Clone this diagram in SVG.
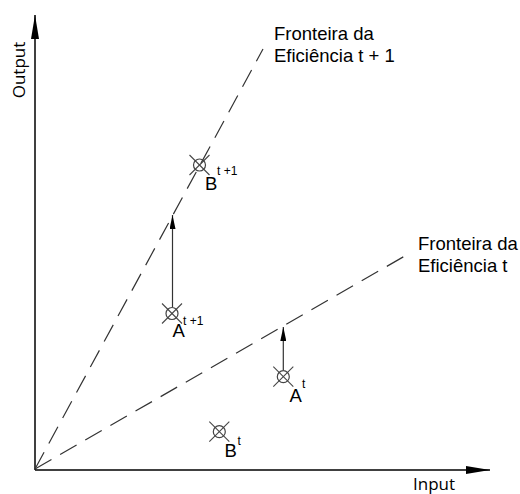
<svg xmlns="http://www.w3.org/2000/svg" width="520" height="494" viewBox="0 0 520 494">
<style>
.lbl{font-family:"Liberation Sans",Arial,sans-serif;font-size:18.5px;fill:#000}
.sup{font-family:"Liberation Sans",Arial,sans-serif;font-size:12px;fill:#000}
.ax{font-family:"Open Sans","Liberation Sans",sans-serif;font-size:17px;fill:#000}
.axis{stroke:#000;stroke-width:1.5;fill:none}
.dash{stroke:#333;stroke-width:1.2;stroke-dasharray:19 10;fill:none}
.vec{stroke:#333;stroke-width:1.2;fill:none}
.mk circle{fill:none;stroke:#444;stroke-width:1.2}
.mk line{stroke:#444;stroke-width:1.1}
</style>
<defs>
<marker id="axh" viewBox="0 0 24 8" refX="24" refY="4" markerWidth="24" markerHeight="8" markerUnits="userSpaceOnUse" orient="auto">
<path d="M0,0 L24,4 L0,8 Z" fill="#000"/>
</marker>
<marker id="vh" viewBox="0 0 14 6" refX="14" refY="3" markerWidth="14" markerHeight="6" markerUnits="userSpaceOnUse" orient="auto">
<path d="M0,0 L14,3 L0,6 Z" fill="#000"/>
</marker>
<g id="xm" class="mk">
<circle cx="0" cy="0" r="6"/>
<line x1="-10" y1="-10" x2="10" y2="10"/>
<line x1="10" y1="-10" x2="-10" y2="10"/>
</g>
</defs>
<g id="connectors">
<line class="axis" x1="35" y1="470" x2="35" y2="15" marker-end="url(#axh)"/>
<line class="axis" x1="35" y1="470" x2="490" y2="470" marker-end="url(#axh)"/>
<line class="dash" x1="35" y1="469" x2="263" y2="49"/>
<line class="dash" x1="35" y1="469" x2="410" y2="253"/>
<line class="vec" x1="172.5" y1="307" x2="172.5" y2="215" marker-end="url(#vh)"/>
<line class="vec" x1="283.3" y1="370" x2="283.3" y2="327" marker-end="url(#vh)"/>
</g>
<g id="axis-labels">
<text class="ax" transform="translate(25,70) rotate(-90)" text-anchor="middle">Output</text>
<text class="ax" x="413" y="490">Input</text>
</g>
<g id="frontier-t1">
<text class="lbl" x="274" y="40">Fronteira da</text>
<text class="lbl" x="274" y="62">Eficiência t + 1</text>
</g>
<g id="frontier-t">
<text class="lbl" x="418" y="250">Fronteira da</text>
<text class="lbl" x="418" y="272">Eficiência t</text>
</g>
<g id="B-t1">
<use href="#xm" x="199.5" y="165"/>
<text class="lbl" x="205" y="189.5">B</text>
<text class="sup" x="217" y="175">t +1</text>
</g>
<g id="A-t1">
<use href="#xm" x="172" y="313.5"/>
<text class="lbl" x="172.5" y="337">A</text>
<text class="sup" x="183" y="325">t +1</text>
</g>
<g id="A-t">
<use href="#xm" x="283.3" y="376.7"/>
<text class="lbl" x="289.5" y="402">A</text>
<text class="sup" x="302" y="388">t</text>
</g>
<g id="B-t">
<use href="#xm" x="219.3" y="431.7"/>
<text class="lbl" x="224.5" y="457">B</text>
<text class="sup" x="237.5" y="445">t</text>
</g>
</svg>
